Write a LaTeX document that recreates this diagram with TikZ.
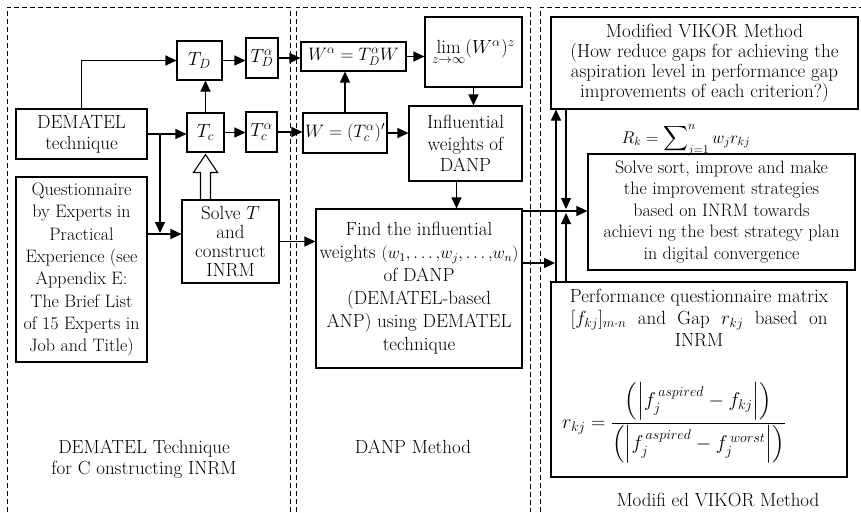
\RequirePackage{fix-cm}
\documentclass[tikz,border=0pt]{standalone}
\usepackage{amsmath}
\usetikzlibrary{arrows.meta,calc}
\begin{document}
\begin{tikzpicture}[x=1pt,y=-1pt,
  every node/.style={font=\fontsize{19}{21.5}\selectfont},
  box/.style={draw,line width=1.1pt,align=center,inner sep=0pt},
  arr/.style={line width=1.1pt,-{Triangle[length=11pt,width=10pt]}},
  ln/.style={line width=1.1pt},
  frame/.style={line width=0.9pt,dash pattern=on 5pt off 3pt},
  captxt/.style={align=center}]

\useasboundingbox (0,0) rectangle (861,512);

% dashed frames of the three stages
\draw[frame] (7,512) -- (7,7) -- (290,7) -- (290,512);
\draw[frame] (296,512) -- (296,7) -- (530,7) -- (530,512);
\draw[frame] (540,512) -- (540,7) -- (861,7);

% DEMATEL stage
\node[box,minimum width=45pt,minimum height=39pt] (TD) at (199.5,60.5) {$T_D$};
\node[box,minimum width=32pt,minimum height=40pt] (TDa) at (262,58) {$T_D^{\alpha}$};
\node[box,minimum width=131pt,minimum height=50pt] (dem) at (81.5,134) {DEMATEL\\technique};
\node[box,minimum width=37pt,minimum height=39pt] (Tc) at (205.5,132.5) {$T_{c}$};
\node[box,minimum width=31pt,minimum height=40pt] (Tca) at (261.5,132) {$T_c^{\alpha}$};
\node[box,minimum width=131pt,minimum height=185pt,font=\fontsize{18}{22.3}\selectfont] (quest) at (81.5,269.5)
  {Questionnaire\\by Experts in\\Practical\\Experience (see\\Appendix E:\\The Brief List\\of 15 Experts in\\Job and Title)};
\node[box,minimum width=97pt,minimum height=83pt,font=\fontsize{19}{19}\selectfont] (solve) at (230.5,241.5)
  {Solve $T$\\and\\construct\\INRM};

% DANP stage
\node[box,minimum width=105pt,minimum height=29pt,font=\fontsize{18}{20}\selectfont] (Wa) at (353.5,56.5) {$W^{\alpha}=T_D^{\alpha}W$};
\node[box,minimum width=97pt,minimum height=70pt] (lim) at (473.5,52) {$\lim\limits_{z\to\infty}(W^{\alpha})^{z}$};
\node[box,minimum width=84pt,minimum height=40pt,font=\fontsize{18}{20}\selectfont] (W) at (345,133) {$W=(T_c^{\alpha})'$};
\node[box,minimum width=113pt,minimum height=75pt] (infl) at (465.5,143.5) {Influential\\weights of\\DANP};
\node[box,minimum width=206pt,minimum height=159pt,font=\fontsize{19}{23}\selectfont] (find) at (419,288.5)
  {Find the influential\\weights {\fontsize{17}{23}\selectfont$(w_1{,}\ldots{,}w_j{,}\ldots{,}w_n)$}\\of DANP\\(DEMATEL-based\\ANP) using DEMATEL\\technique};

% VIKOR stage
\node[box,minimum width=307pt,minimum height=92pt,font=\fontsize{19}{20}\selectfont] (vikor) at (704.5,63)
  {Modified VIKOR Method\\(How reduce gaps for achieving the\\aspiration level in performance gap\\improvements of each criterion?)};
\node[font=\fontsize{17}{20}\selectfont] (rk) at (686,140) {$\displaystyle R_k=\sum\nolimits_{j=1}^{n} w_j r_{kj}$};
\node[box,minimum width=267pt,minimum height=116pt,font=\fontsize{18}{21.5}\selectfont] (sort) at (721.5,212)
  {Solve sort, improve and make\\the improvement strategies\\based on INRM towards\\achievi ng the best strategy plan\\in digital convergence};
\node[box,minimum width=296pt,minimum height=195pt] (perf) at (699,379.5) {};
\node[align=center,anchor=north,font=\fontsize{19}{22}\selectfont] (perftxt) at (699,286)
  {Performance questionnaire matrix\\$[f_{kj}]_{m\cdot n}$\ \ and\ \ Gap\ \ $r_{kj}$\ \ based\ \ on\\INRM};
\node[font=\fontsize{20}{22}\selectfont] (perfeq) at (674,423)
  {$r_{kj}=\dfrac{\left(\left|f_j^{\,aspired}-f_{kj}\right|\right)}{\left(\left|f_j^{\,aspired}-f_j^{\,worst}\right|\right)}$};

% stage captions
\node[captxt] (c1) at (144,459) {DEMATEL Technique\\for C onstructing INRM};
\node[captxt] (c2) at (413,447) {DANP Method};
\node[captxt] (c3) at (718,500) {Modifi ed VIKOR Method};

% connectors, DEMATEL stage
\coordinate (br) at (160,134);
\coordinate (yq) at (0,234);
\coordinate (yd) at (0,233);
\coordinate (ys) at (0,211);
\draw[arr] (dem.north) |- (TD.west);
\draw[arr] (dem.east) -- (dem.east -| Tc.west);
\draw[arr] (br) -- (br |- yd);
\draw[arr] (quest.east |- yq) -- (solve.west |- yq);
\draw[arr] (Tc.north) -- (Tc.north |- TD.south);
\draw[arr] (TD.east) -- (TD.east -| TDa.west);
\draw[arr] (Tc.east) -- (Tc.east -| Tca.west);
\draw[arr] (TDa.east) -- (TDa.east -| Wa.west);
\draw[arr] (Tca.east) -- (Tca.east -| W.west);
\coordinate (hb) at (Tc.south |- solve.north);
\draw[ln,line join=miter] ($(hb)+(-5,0)$) -- ++(0,-27) -- ++(-7,0) -- ($(Tc.south)+(0,2)$)
  -- ($(hb)+(12,-27)$) -- ++(-7,0) -- ++(0,27);

% connectors, DANP stage
\draw[arr] (W.north) -- (W.north |- Wa.south);
\draw[arr] (W.east) -- (W.east -| infl.west);
\draw[arr] (Wa.east) -- (Wa.east -| lim.west);
\draw[arr] (lim.south) -- (lim.south |- infl.north);
\draw[arr] ([xshift=-9pt]infl.south) -- ([xshift=-9pt]infl.south |- find.north);
\draw[arr] (solve.east) -- (solve.east -| find.west);

% connectors, VIKOR stage
\draw[arr] (find.east |- ys) -- (sort.west |- ys);
\coordinate (v1) at (556,263);
\draw[arr] (find.east |- v1) -- ([xshift=-1pt]v1);
\draw[arr] (perf.north -| v1) -- (vikor.south -| v1);
\coordinate (jt) at (566,209);
\coordinate (jb) at (566,213);
\draw[arr] (vikor.south -| jt) -- (jt);
\draw[arr] (perf.north -| jb) -- (jb);
\end{tikzpicture}
\end{document}
